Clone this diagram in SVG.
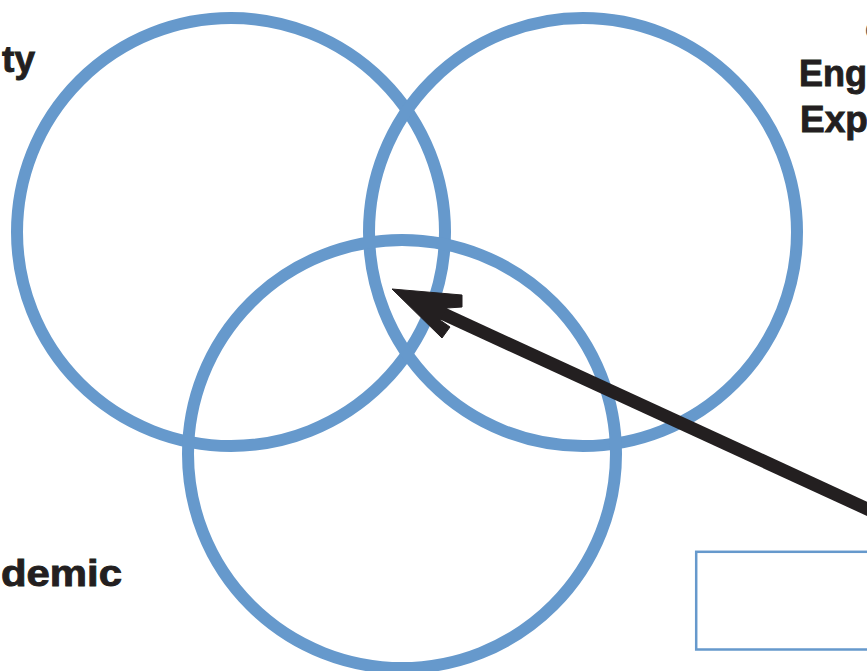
<svg xmlns="http://www.w3.org/2000/svg" width="867" height="671" viewBox="0 0 867 671">
  <style>
    .ring { fill: none; stroke: #6699cc; stroke-width: 12; }
    .label { font-family: "Liberation Sans", Arial, sans-serif; font-weight: bold; font-size: 37px; fill: #231f20; stroke: #231f20; stroke-width: 0.9; }
    .arrow { stroke: #231f20; fill: #231f20; }
  </style>
  <rect x="0" y="0" width="867" height="671" fill="#ffffff"/>
  <g id="circle-top-left">
    <circle class="ring" cx="231" cy="232" r="214"/>
    <text class="label" x="35" y="72" text-anchor="end">ty</text>
  </g>
  <g id="circle-top-right">
    <circle class="ring" cx="583" cy="232" r="214"/>
    <text class="label" x="865" y="35" style="font-size:16px;font-weight:normal;stroke:none;fill:#555555">(</text>
    <text class="label" x="799" y="86" textLength="88" lengthAdjust="spacingAndGlyphs">Enga</text>
    <text class="label" x="800" y="132">Exp</text>
  </g>
  <g id="circle-bottom">
    <circle class="ring" cx="402" cy="454" r="214"/>
    <text class="label" x="1" y="586" textLength="121" lengthAdjust="spacingAndGlyphs">demic</text>
  </g>
  <g id="box">
    <rect x="696.2" y="551.8" width="200" height="97.7" fill="none" stroke="#6699cc" stroke-width="2.5"/>
  </g>
  <g id="connectors">
    <line class="arrow" x1="432" y1="308.7" x2="890" y2="519.4" stroke-width="13" fill="none"/>
    <polygon class="arrow" stroke="none" points="392,289 462,295 462,307 447,308 440,320 450,327 442,338"/>
  </g>
</svg>
